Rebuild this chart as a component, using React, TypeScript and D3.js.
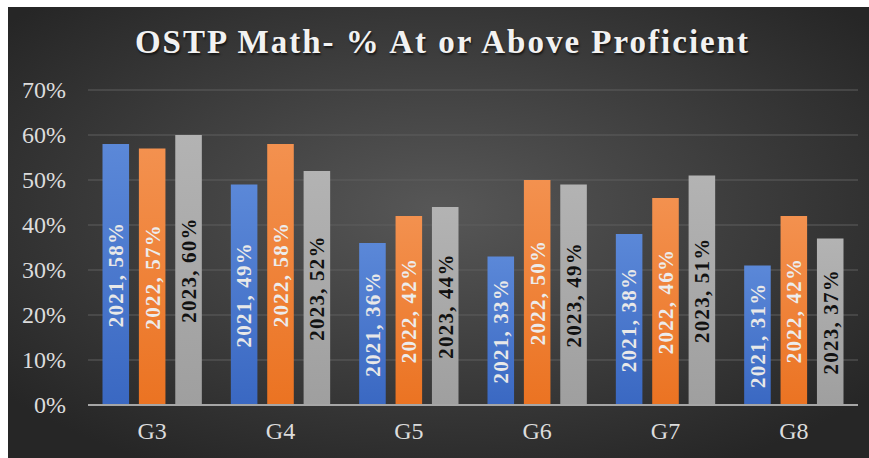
import React from "react";
import * as d3 from "d3";

const grades = ["G3", "G4", "G5", "G6", "G7", "G8"];
const years = ["2021", "2022", "2023"];
const pct2021 = [58, 49, 36, 33, 38, 31];
const pct2022 = [57, 58, 42, 50, 46, 42];
const pct2023 = [60, 52, 44, 49, 51, 37];
const yTicks = [0, 10, 20, 30, 40, 50, 60, 70];

const PAGE_W = 869;
const PAGE_H = 458;
const W = 861;
const H = 451;
const serif = "'Liberation Serif', 'DejaVu Serif', serif";

const seriesColors = [
  { top: "#5b88d8", bottom: "#3a68c2", text: "#e8e8e8" },
  { top: "#f3914f", bottom: "#eb7322", text: "#ececec" },
  { top: "#b3b3b3", bottom: "#9f9f9f", text: "#111111" },
];

const App = () => {
  const margin = { top: 83, right: 11, bottom: 53, left: 80 };
  const series = [pct2021, pct2022, pct2023];

  const x = d3.scaleBand()
    .domain(grades)
    .range([margin.left, W - margin.right])
    .paddingInner(0.226)
    .paddingOuter(0.113);
  const inner = d3.scaleBand()
    .domain(years)
    .range([0, x.bandwidth()])
    .paddingInner(0.27);
  const y = d3.scaleLinear().domain([0, 70]).range([H - margin.bottom, margin.top]);

  const plotLeft = margin.left;
  const plotRight = W - margin.right;

  return (
    <>
      <style>{"html,body{margin:0;padding:0;overflow:hidden;background:#fff}"}</style>
      <svg width={PAGE_W} height={PAGE_H} style={{ position: "fixed", left: 0, top: 0, display: "block" }}>
        <defs>
          <radialGradient id="bg" cx="50%" cy="45%" r="65%">
            <stop offset="0%" stopColor="#575757" />
            <stop offset="100%" stopColor="#262626" />
          </radialGradient>
          {seriesColors.map((c, i) => (
            <linearGradient key={i} id={`bar${i}`} x1="0" y1="0" x2="0" y2="1">
              <stop offset="0%" stopColor={c.top} />
              <stop offset="100%" stopColor={c.bottom} />
            </linearGradient>
          ))}
        </defs>
        <rect width={PAGE_W} height={PAGE_H} fill="#ffffff" />
        <g transform="translate(8,7)">
          <rect width={W} height={H} fill="url(#bg)" />

          <text x={W / 2 + 4} y={46} textAnchor="middle" fill="#f2f2f2"
            fontFamily={serif} fontWeight="bold" fontSize={33} letterSpacing={2}
            style={{ textShadow: "1px 2px 2px rgba(0,0,0,0.6)" }}>
            OSTP Math- % At or Above Proficient
          </text>

          {yTicks.map(t => (
            <g key={t}>
              {t > 0 && (
                <line x1={plotLeft} x2={plotRight} y1={y(t)} y2={y(t)} stroke="#5e5e5e" strokeWidth={1} />
              )}
              <text x={58} y={y(t)} dy="0.35em" textAnchor="end" fill="#dcdcdc"
                fontFamily={serif} fontSize={24}>
                {t}%
              </text>
            </g>
          ))}

          {grades.map((g, gi) => (
            <g key={g} transform={`translate(${x(g)},0)`}>
              {series.map((vals, si) => {
                const bx = inner(years[si]);
                const bw = inner.bandwidth();
                const top = y(vals[gi]);
                const bottom = y(0);
                const cx = bx + bw / 2;
                const cy = (top + bottom) / 2;
                return (
                  <g key={si}>
                    <rect x={bx} y={top} width={bw} height={bottom - top} fill={`url(#bar${si})`} />
                    <text transform={`translate(${cx},${cy}) rotate(-90)`} textAnchor="middle" dy="0.35em"
                      fill={seriesColors[si].text} fontFamily={serif} fontWeight="bold" fontSize={21}
                      letterSpacing={1.2}>
                      {years[si]}, {vals[gi]}%
                    </text>
                  </g>
                );
              })}
              <text x={x.bandwidth() / 2} y={y(0) + 34} textAnchor="middle" fill="#dcdcdc"
                fontFamily={serif} fontSize={24}>
                {g}
              </text>
            </g>
          ))}

          <line x1={plotLeft} x2={plotRight} y1={y(0)} y2={y(0)} stroke="#a6a6a6" strokeWidth={2} />
        </g>
      </svg>
    </>
  );
};

export default App;
